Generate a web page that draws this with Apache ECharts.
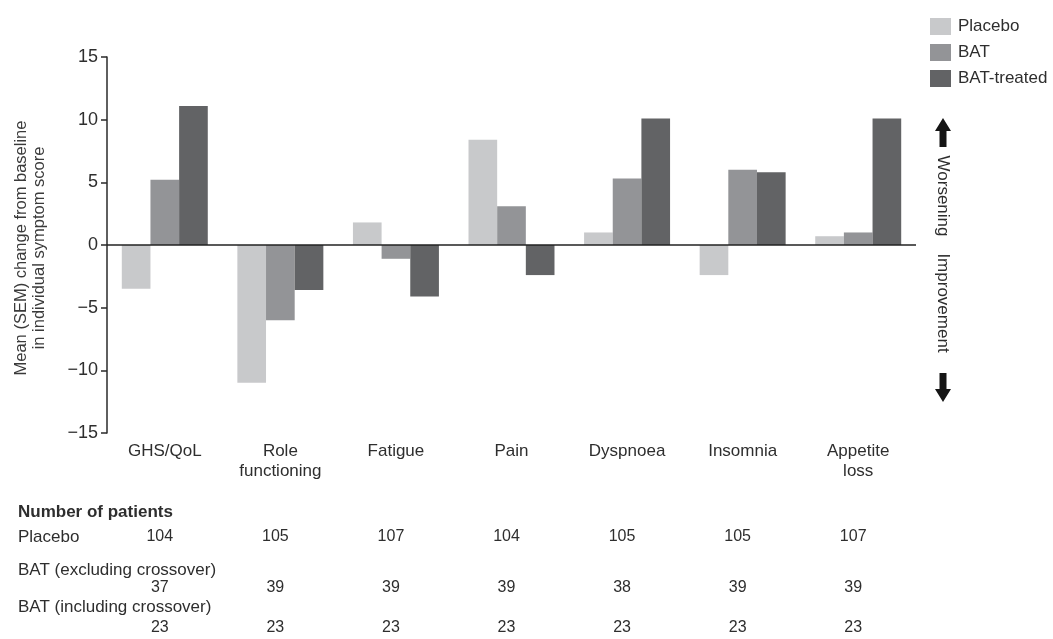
<!DOCTYPE html>
<html>
<head>
<meta charset="utf-8">
<script src="https://cdn.jsdelivr.net/npm/echarts@6/dist/echarts.min.js"></script>
<style>
  html, body { margin: 0; padding: 0; background: #fff; }
  #chart { width: 1053px; height: 639px; }
</style>
</head>
<body>
<div id="chart"></div>
<script>
// Symptom domains and mean change from baseline per arm
const categories = ['GHS/QoL', 'Role\nfunctioning', 'Fatigue', 'Pain', 'Dyspnoea', 'Insomnia', 'Appetite\nloss'];
const placebo    = [-3.5, -11.0,  1.8,  8.4,  1.0, -2.4,  0.7];
const bat        = [ 5.2,  -6.0, -1.1,  3.1,  5.3,  6.0,  1.0];
const batTreated = [11.1,  -3.6, -4.1, -2.4, 10.1,  5.8, 10.1];
const yTicks = [-15, -10, -5, 0, 5, 10, 15];

// Number of patients per domain
const nPlacebo = [104, 105, 107, 104, 105, 105, 107];
const nBatExcl = [37, 39, 39, 39, 38, 39, 39];
const nBatIncl = [23, 23, 23, 23, 23, 23, 23];
const tableRows = ['Placebo', 'BAT (excluding crossover)', 'BAT (including crossover)'];
const seriesNames = ['Placebo', 'BAT', 'BAT-treated'];
const colors = ['#c8c9cb', '#939497', '#626365'];

const FONT = '"Liberation Sans", Arial, Helvetica, sans-serif';
const TEXT = '#2e2e2e';

const chart = echarts.init(document.getElementById('chart'), null, { renderer: 'canvas' });

function countAxis(values, offset) {
  return {
    type: 'category',
    data: categories,
    gridIndex: 0,
    position: 'bottom',
    offset: offset,
    axisLine: { show: false },
    axisTick: { show: false },
    splitLine: { show: false },
    axisLabel: {
      interval: 0,
      margin: 0,
      verticalAlign: 'middle',
      padding: [0, 10, 0, 0],
      fontFamily: FONT,
      fontSize: 16,
      color: TEXT,
      formatter: (v, i) => String(values[i])
    }
  };
}

function barSeries(i, data) {
  return {
    name: seriesNames[i],
    type: 'bar',
    data: data,
    xAxisIndex: 0,
    yAxisIndex: 0,
    barGap: '0%',
    barCategoryGap: '25.6%',
    itemStyle: { color: colors[i] },
    silent: true
  };
}

const series = [barSeries(0, placebo), barSeries(1, bat), barSeries(2, batTreated)];
// zero baseline across the plot
series[2].markLine = {
  silent: true,
  symbol: ['none', 'none'],
  label: { show: false },
  lineStyle: { color: '#222', width: 1.5, type: 'solid' },
  data: [{ yAxis: 0 }]
};

function txt(text, x, y, opts) {
  return Object.assign({
    type: 'text',
    x: x, y: y,
    silent: true,
    style: Object.assign({
      text: text,
      fill: TEXT,
      fontFamily: FONT,
      fontSize: 17,
      align: 'left',
      verticalAlign: 'middle'
    }, (opts && opts.style) || {})
  }, opts && opts.rotation != null ? { rotation: opts.rotation } : {});
}

const graphics = [
  // y-axis title
  txt('Mean (SEM) change from baseline\nin individual symptom score', 30, 248, {
    rotation: Math.PI / 2,
    style: { align: 'center', lineHeight: 18, fontSize: 16.5, fill: '#3a3a3a' }
  }),
  // direction hints on the right
  {
    type: 'polygon', silent: true,
    shape: { points: [[943, 118], [951, 131], [946.5, 131], [946.5, 147], [939.5, 147], [939.5, 131], [935, 131]] },
    style: { fill: '#151515' }
  },
  {
    type: 'polygon', silent: true,
    shape: { points: [[939.5, 373], [946.5, 373], [946.5, 389], [951, 389], [943, 402], [935, 389], [939.5, 389]] },
    style: { fill: '#151515' }
  },
  txt('Worsening', 943, 196, { rotation: -Math.PI / 2, style: { align: 'center' } }),
  txt('Improvement', 943, 303, { rotation: -Math.PI / 2, style: { align: 'center' } }),
  // patient number table
  txt('Number of patients', 18, 512, { style: { fontWeight: 'bold' } }),
  txt(tableRows[0], 18, 537),
  txt(tableRows[1], 18, 570),
  txt(tableRows[2], 18, 607)
];

const option = {
  backgroundColor: '#ffffff',
  animation: false,
  textStyle: { fontFamily: FONT },
  legend: {
    orient: 'vertical',
    left: 930,
    top: 18,
    padding: 0,
    itemWidth: 21,
    itemHeight: 17,
    itemGap: 9,
    icon: 'rect',
    selectedMode: false,
    data: seriesNames,
    textStyle: { fontFamily: FONT, fontSize: 17, color: TEXT, padding: [0, 0, 0, 2] }
  },
  grid: { left: 107, right: 137, top: 57, bottom: 206, containLabel: false },
  xAxis: [
    {
      type: 'category',
      data: categories,
      position: 'bottom',
      axisLine: { show: false, onZero: false },
      axisTick: { show: false },
      splitLine: { show: false },
      axisLabel: {
        interval: 0,
        margin: 8,
        fontFamily: FONT,
        fontSize: 17,
        lineHeight: 20,
        color: TEXT,
        align: 'center'
      }
    },
    countAxis(nPlacebo, 104),
    countAxis(nBatExcl, 155),
    countAxis(nBatIncl, 195)
  ],
  yAxis: {
    type: 'value',
    min: yTicks[0],
    max: yTicks[yTicks.length - 1],
    interval: yTicks[1] - yTicks[0],
    axisLine: { show: true, onZero: false, lineStyle: { color: '#2a2a2a', width: 1.5 } },
    axisTick: { show: true, length: 6, lineStyle: { color: '#2a2a2a', width: 1.5 } },
    splitLine: { show: false },
    axisLabel: {
      margin: 9,
      fontFamily: FONT,
      fontSize: 18,
      color: TEXT,
      formatter: v => (v < 0 ? '\u2212' + Math.abs(v) : String(v))
    }
  },
  series: series,
  graphic: graphics
};

chart.setOption(option);
</script>
</body>
</html>
